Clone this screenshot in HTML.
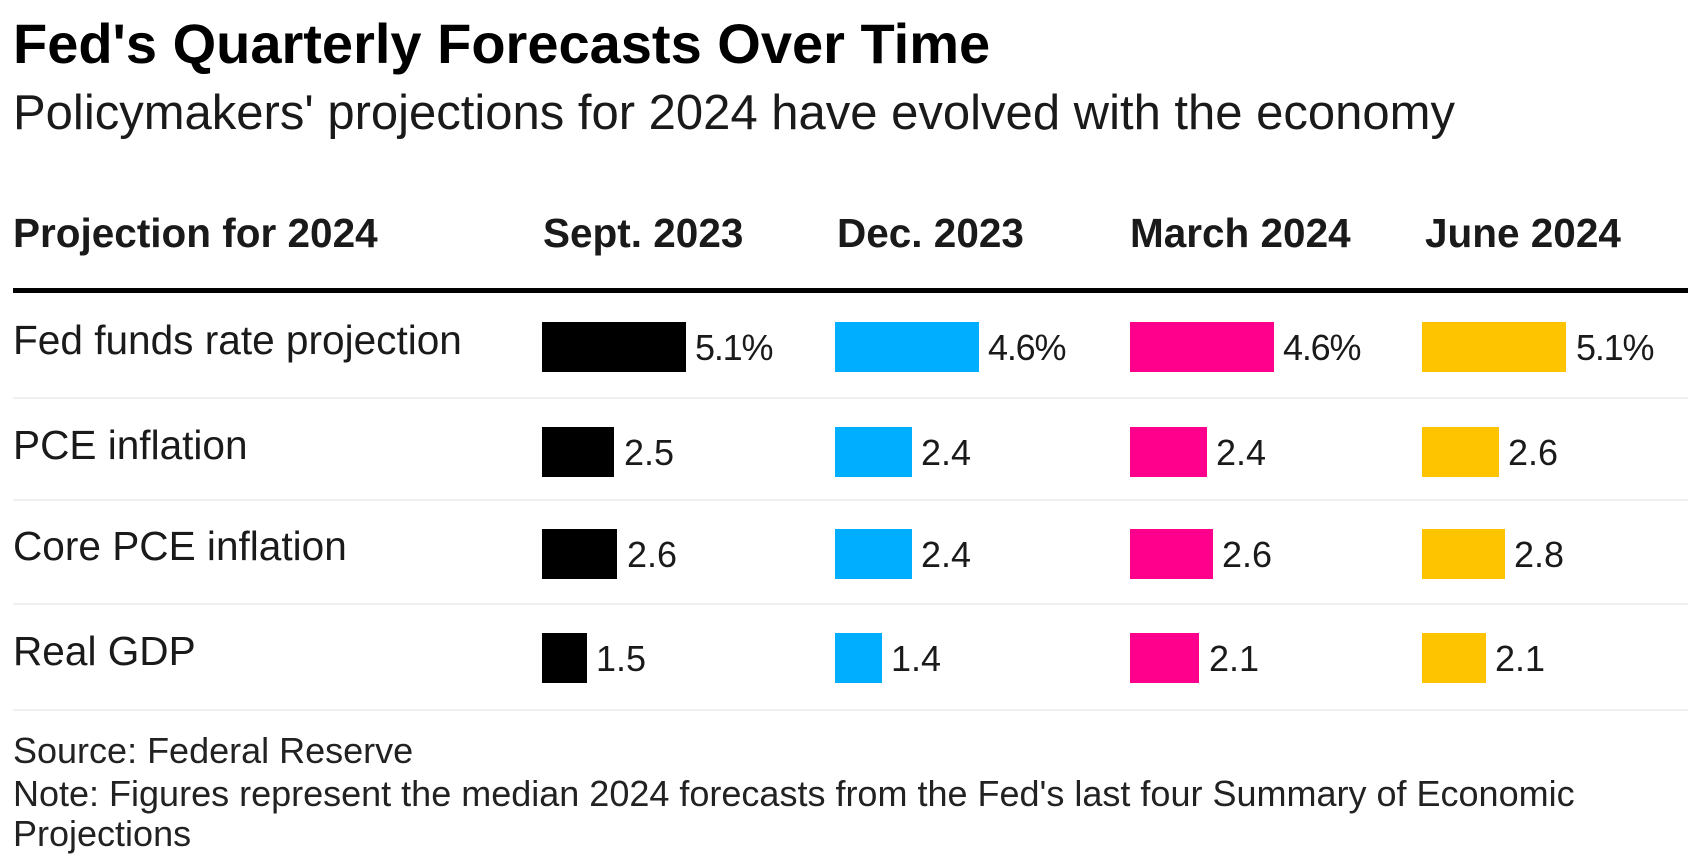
<!DOCTYPE html>
<html>
<head>
<meta charset="utf-8">
<style>
  html, body { margin:0; padding:0; background:#fff; }
  body { width:1688px; height:862px; position:relative; overflow:hidden;
         font-family:"Liberation Sans", Arial, sans-serif; color:#1a1a1a; }
  .t { position:absolute; white-space:nowrap; line-height:1; }
  .title { left:13px; top:15.5px; font-size:56px; font-weight:bold; color:#000; }
  .sub { left:13px; top:89.3px; font-size:49px; color:#1a1a1a; }
  .hd { top:212.5px; font-size:40.5px; font-weight:bold; color:#1a1a1a; }
  .rl { left:13px; font-size:40.6px; color:#1a1a1a; }
  .bar { position:absolute; height:50px; }
  .v { font-size:36px; color:#1a1a1a; }
  .pc { letter-spacing:-1.2px; }
  .sep { position:absolute; left:13px; width:1675px; height:2px; background:#f0f0f0; }
  .rule { position:absolute; left:13px; width:1675px; top:288px; height:5px; background:#000; }
  .ft { left:13px; font-size:36px; color:#222; }
  .k { background:#000; }
  .b { background:#00aeff; }
  .p { background:#ff008c; }
  .y { background:#ffc400; }
</style>
</head>
<body>
  <div class="t title">Fed's Quarterly Forecasts Over Time</div>
  <div class="t sub">Policymakers' projections for 2024 have evolved with the economy</div>

  <div class="t hd" style="left:13px;">Projection for 2024</div>
  <div class="t hd" style="left:543px;">Sept. 2023</div>
  <div class="t hd" style="left:837px;">Dec. 2023</div>
  <div class="t hd" style="left:1130px;">March 2024</div>
  <div class="t hd" style="left:1425px;">June 2024</div>

  <div class="rule"></div>

  <!-- Row labels -->
  <div class="t rl" style="top:319.6px;">Fed funds rate projection</div>
  <div class="t rl" style="top:424.9px;">PCE inflation</div>
  <div class="t rl" style="top:526.3px;">Core PCE inflation</div>
  <div class="t rl" style="top:631.3px;">Real GDP</div>

  <!-- Separators -->
  <div class="sep" style="top:396.5px;"></div>
  <div class="sep" style="top:499px;"></div>
  <div class="sep" style="top:603px;"></div>
  <div class="sep" style="top:708.5px;"></div>

  <!-- Row 1 -->
  <div class="bar k" style="left:542px; top:322px; width:144px;"></div>
  <div class="t v pc" style="left:695px; top:329.5px;">5.1%</div>
  <div class="bar b" style="left:835px; top:322px; width:144px;"></div>
  <div class="t v pc" style="left:988px; top:329.5px;">4.6%</div>
  <div class="bar p" style="left:1130px; top:322px; width:144px;"></div>
  <div class="t v pc" style="left:1283px; top:329.5px;">4.6%</div>
  <div class="bar y" style="left:1422px; top:322px; width:144px;"></div>
  <div class="t v pc" style="left:1576px; top:329.5px;">5.1%</div>

  <!-- Row 2 -->
  <div class="bar k" style="left:542px; top:427px; width:72px;"></div>
  <div class="t v" style="left:624px; top:434.5px;">2.5</div>
  <div class="bar b" style="left:835px; top:427px; width:77px;"></div>
  <div class="t v" style="left:921px; top:434.5px;">2.4</div>
  <div class="bar p" style="left:1130px; top:427px; width:77px;"></div>
  <div class="t v" style="left:1216px; top:434.5px;">2.4</div>
  <div class="bar y" style="left:1422px; top:427px; width:77px;"></div>
  <div class="t v" style="left:1508px; top:434.5px;">2.6</div>

  <!-- Row 3 -->
  <div class="bar k" style="left:542px; top:529px; width:75px;"></div>
  <div class="t v" style="left:627px; top:536.5px;">2.6</div>
  <div class="bar b" style="left:835px; top:529px; width:77px;"></div>
  <div class="t v" style="left:921px; top:536.5px;">2.4</div>
  <div class="bar p" style="left:1130px; top:529px; width:83px;"></div>
  <div class="t v" style="left:1222px; top:536.5px;">2.6</div>
  <div class="bar y" style="left:1422px; top:529px; width:83px;"></div>
  <div class="t v" style="left:1514px; top:536.5px;">2.8</div>

  <!-- Row 4 -->
  <div class="bar k" style="left:542px; top:633px; width:45px;"></div>
  <div class="t v" style="left:596px; top:640.5px;">1.5</div>
  <div class="bar b" style="left:835px; top:633px; width:47px;"></div>
  <div class="t v" style="left:891px; top:640.5px;">1.4</div>
  <div class="bar p" style="left:1130px; top:633px; width:69px;"></div>
  <div class="t v" style="left:1209px; top:640.5px;">2.1</div>
  <div class="bar y" style="left:1422px; top:633px; width:64px;"></div>
  <div class="t v" style="left:1495px; top:640.5px;">2.1</div>

  <!-- Footer -->
  <div class="t ft" style="top:732.5px;">Source: Federal Reserve</div>
  <div class="t ft" style="top:776px;">Note: Figures represent the median 2024 forecasts from the Fed's last four Summary of Economic</div>
  <div class="t ft" style="top:815.5px;">Projections</div>
</body>
</html>
